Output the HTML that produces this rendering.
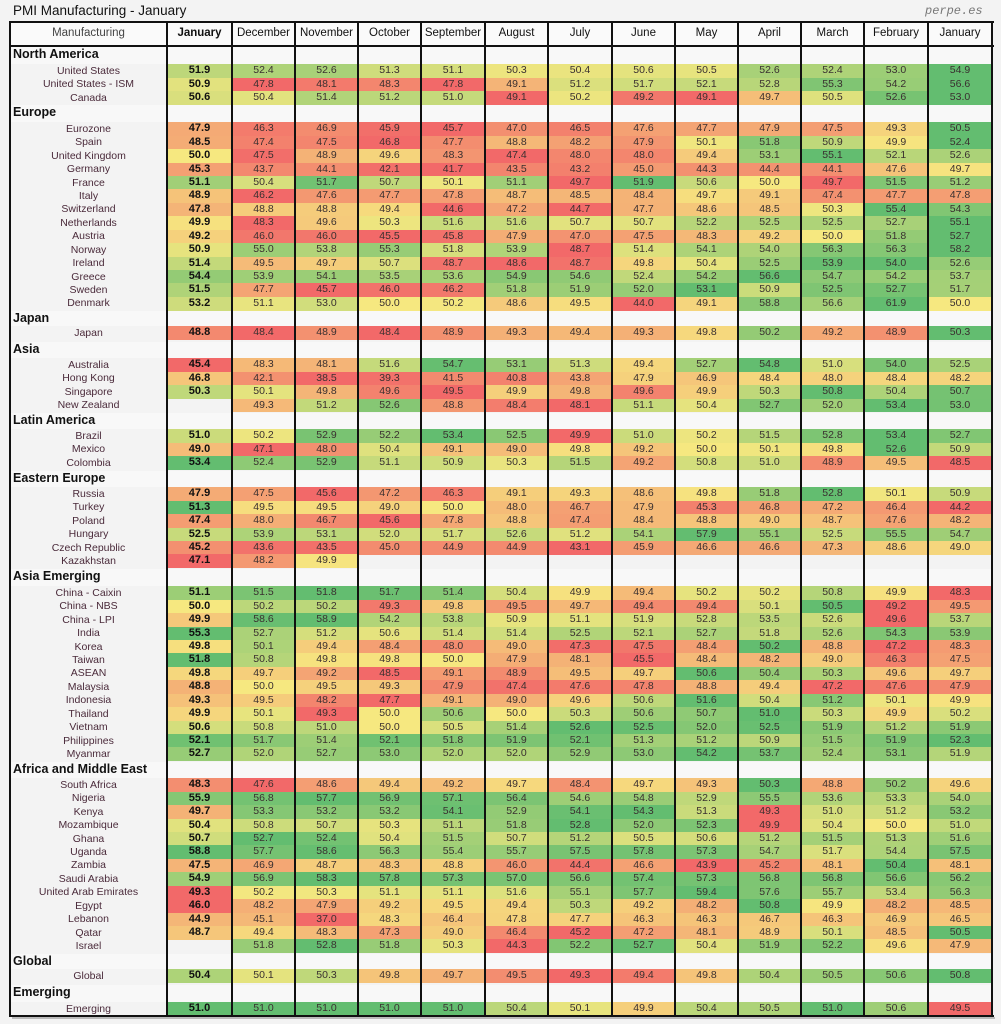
<!DOCTYPE html>
<html><head><meta charset="utf-8">
<style>
html,body{margin:0;padding:0;}
body{width:1001px;height:1024px;background:#f3f3f3;position:relative;overflow:hidden;font-family:"Liberation Sans",Arial,sans-serif;}
.t{position:absolute;white-space:nowrap;}
.c{position:absolute;text-align:center;font-size:10.5px;color:#3a3030;}
.vl{position:absolute;background:#111;width:2px;}
.hl{position:absolute;background:#111;height:2px;}
</style></head><body>
<div class="t" style="left:13px;top:3px;font-size:13.5px;color:#111;">PMI Manufacturing - January</div>
<div class="t" style="left:925px;top:4px;font-size:12px;color:#777;font-family:'Liberation Mono',monospace;font-style:italic;">perpe.es</div>
<div id="tb"></div>
<script>
const X=[10,167,232,295,358,421,485,548,612,675,738,801,864,928,992];
const heads=["Manufacturing","January","December","November","October","September","August","July","June","May","April","March","February","January"];
const groups=[
["North America",55,71,[
["United States","51.9 52.4 52.6 51.3 51.1 50.3 50.4 50.6 50.5 52.6 52.4 53.0 54.9"],
["United States - ISM","50.9 47.8 48.1 48.3 47.8 49.1 51.2 51.7 52.1 52.8 55.3 54.2 56.6"],
["Canada","50.6 50.4 51.4 51.2 51.0 49.1 50.2 49.2 49.1 49.7 50.5 52.6 53.0"]]],
["Europe",113,129,[
["Eurozone","47.9 46.3 46.9 45.9 45.7 47.0 46.5 47.6 47.7 47.9 47.5 49.3 50.5"],
["Spain","48.5 47.4 47.5 46.8 47.7 48.8 48.2 47.9 50.1 51.8 50.9 49.9 52.4"],
["United Kingdom","50.0 47.5 48.9 49.6 48.3 47.4 48.0 48.0 49.4 53.1 55.1 52.1 52.6"],
["Germany","45.3 43.7 44.1 42.1 41.7 43.5 43.2 45.0 44.3 44.4 44.1 47.6 49.7"],
["France","51.1 50.4 51.7 50.7 50.1 51.1 49.7 51.9 50.6 50.0 49.7 51.5 51.2"],
["Italy","48.9 46.2 47.6 47.7 47.8 48.7 48.5 48.4 49.7 49.1 47.4 47.7 47.8"],
["Switzerland","47.8 48.8 48.8 49.4 44.6 47.2 44.7 47.7 48.6 48.5 50.3 55.4 54.3"],
["Netherlands","49.9 48.3 49.6 50.3 51.6 51.6 50.7 50.7 52.2 52.5 52.5 52.7 55.1"],
["Austria","49.2 46.0 46.0 45.5 45.8 47.9 47.0 47.5 48.3 49.2 50.0 51.8 52.7"],
["Norway","50.9 55.0 53.8 55.3 51.8 53.9 48.7 51.4 54.1 54.0 56.3 56.3 58.2"],
["Ireland","51.4 49.5 49.7 50.7 48.7 48.6 48.7 49.8 50.4 52.5 53.9 54.0 52.6"],
["Greece","54.4 53.9 54.1 53.5 53.6 54.9 54.6 52.4 54.2 56.6 54.7 54.2 53.7"],
["Sweden","51.5 47.7 45.7 46.0 46.2 51.8 51.9 52.0 53.1 50.9 52.5 52.7 51.7"],
["Denmark","53.2 51.1 53.0 50.0 50.2 48.6 49.5 44.0 49.1 58.8 56.6 61.9 50.0"]]],
["Japan",319,333,[["Japan","48.8 48.4 48.9 48.4 48.9 49.3 49.4 49.3 49.8 50.2 49.2 48.9 50.3"]]],
["Asia",350,365,[
["Australia","45.4 48.3 48.1 51.6 54.7 53.1 51.3 49.4 52.7 54.8 51.0 54.0 52.5"],
["Hong Kong","46.8 42.1 38.5 39.3 41.5 40.8 43.8 47.9 46.9 48.4 48.0 48.4 48.2"],
["Singapore","50.3 50.1 49.8 49.6 49.5 49.9 49.8 49.6 49.9 50.3 50.8 50.4 50.7"],
["New Zealand","- 49.3 51.2 52.6 48.8 48.4 48.1 51.1 50.4 52.7 52.0 53.4 53.0"]]],
["Latin America",421,436,[
["Brazil","51.0 50.2 52.9 52.2 53.4 52.5 49.9 51.0 50.2 51.5 52.8 53.4 52.7"],
["Mexico","49.0 47.1 48.0 50.4 49.1 49.0 49.8 49.2 50.0 50.1 49.8 52.6 50.9"],
["Colombia","53.4 52.4 52.9 51.1 50.9 50.3 51.5 49.2 50.8 51.0 48.9 49.5 48.5"]]],
["Eastern Europe",479,494,[
["Russia","47.9 47.5 45.6 47.2 46.3 49.1 49.3 48.6 49.8 51.8 52.8 50.1 50.9"],
["Turkey","51.3 49.5 49.5 49.0 50.0 48.0 46.7 47.9 45.3 46.8 47.2 46.4 44.2"],
["Poland","47.4 48.0 46.7 45.6 47.8 48.8 47.4 48.4 48.8 49.0 48.7 47.6 48.2"],
["Hungary","52.5 53.9 53.1 52.0 51.7 52.6 51.2 54.1 57.9 55.1 52.5 55.5 54.7"],
["Czech Republic","45.2 43.6 43.5 45.0 44.9 44.9 43.1 45.9 46.6 46.6 47.3 48.6 49.0"],
["Kazakhstan","47.1 48.2 49.9 - - - - - - - - - -"]]],
["Asia Emerging",577,593,[
["China - Caixin","51.1 51.5 51.8 51.7 51.4 50.4 49.9 49.4 50.2 50.2 50.8 49.9 48.3"],
["China - NBS","50.0 50.2 50.2 49.3 49.8 49.5 49.7 49.4 49.4 50.1 50.5 49.2 49.5"],
["China - LPI","49.9 58.6 58.9 54.2 53.8 50.9 51.1 51.9 52.8 53.5 52.6 49.6 53.7"],
["India","55.3 52.7 51.2 50.6 51.4 51.4 52.5 52.1 52.7 51.8 52.6 54.3 53.9"],
["Korea","49.8 50.1 49.4 48.4 48.0 49.0 47.3 47.5 48.4 50.2 48.8 47.2 48.3"],
["Taiwan","51.8 50.8 49.8 49.8 50.0 47.9 48.1 45.5 48.4 48.2 49.0 46.3 47.5"],
["ASEAN","49.8 49.7 49.2 48.5 49.1 48.9 49.5 49.7 50.6 50.4 50.3 49.6 49.7"],
["Malaysia","48.8 50.0 49.5 49.3 47.9 47.4 47.6 47.8 48.8 49.4 47.2 47.6 47.9"],
["Indonesia","49.3 49.5 48.2 47.7 49.1 49.0 49.6 50.6 51.6 50.4 51.2 50.1 49.9"],
["Thailand","49.9 50.1 49.3 50.0 50.6 50.0 50.3 50.6 50.7 51.0 50.3 49.9 50.2"],
["Vietnam","50.6 50.8 51.0 50.0 50.5 51.4 52.6 52.5 52.0 52.5 51.9 51.2 51.9"],
["Philippines","52.1 51.7 51.4 52.1 51.8 51.9 52.1 51.3 51.2 50.9 51.5 51.9 52.3"],
["Myanmar","52.7 52.0 52.7 53.0 52.0 52.0 52.9 53.0 54.2 53.7 52.4 53.1 51.9"]]],
["Africa and Middle East",770,785,[
["South Africa","48.3 47.6 48.6 49.4 49.2 49.7 48.4 49.7 49.3 50.3 48.8 50.2 49.6"],
["Nigeria","55.9 56.8 57.7 56.9 57.1 56.4 54.6 54.8 52.9 55.5 53.6 53.3 54.0"],
["Kenya","49.7 53.3 53.2 53.2 54.1 52.9 54.1 54.3 51.3 49.3 51.0 51.2 53.2"],
["Mozambique","50.4 50.8 50.7 50.3 51.1 51.8 52.8 52.0 52.3 49.9 50.4 50.0 51.0"],
["Ghana","50.7 52.7 52.4 50.4 51.5 50.7 51.2 50.5 50.6 51.2 51.5 51.3 51.6"],
["Uganda","58.8 57.7 58.6 56.3 55.4 55.7 57.5 57.8 57.3 54.7 51.7 54.4 57.5"],
["Zambia","47.5 46.9 48.7 48.3 48.8 46.0 44.4 46.6 43.9 45.2 48.1 50.4 48.1"],
["Saudi Arabia","54.9 56.9 58.3 57.8 57.3 57.0 56.6 57.4 57.3 56.8 56.8 56.6 56.2"],
["United Arab Emirates","49.3 50.2 50.3 51.1 51.1 51.6 55.1 57.7 59.4 57.6 55.7 53.4 56.3"],
["Egypt","46.0 48.2 47.9 49.2 49.5 49.4 50.3 49.2 48.2 50.8 49.9 48.2 48.5"],
["Lebanon","44.9 45.1 37.0 48.3 46.4 47.8 47.7 46.3 46.3 46.7 46.3 46.9 46.5"],
["Qatar","48.7 49.4 48.3 47.3 49.0 46.4 45.2 47.2 48.1 48.9 50.1 48.5 50.5"],
["Israel","- 51.8 52.8 51.8 50.3 44.3 52.2 52.7 50.4 51.9 52.2 49.6 47.9"]]],
["Global",962,976,[["Global","50.4 50.1 50.3 49.8 49.7 49.5 49.3 49.4 49.8 50.4 50.5 50.6 50.8"]]],
["Emerging",993,1009,[["Emerging","51.0 51.0 51.0 51.0 51.0 50.4 50.1 49.9 50.4 50.5 51.0 50.6 49.5"]]]
];
const R=[242,105,105],Y=[246,232,128],G=[99,189,112];
function mix(a,b,t){return `rgb(${a.map((v,i)=>Math.round(v+(b[i]-v)*t)).join(',')})`;}
let h='';
h+=`<div style="position:absolute;left:10px;top:22px;width:982px;height:24px;background:#fafafa"></div>`;
for(let i=0;i<14;i++){
  const l=X[i],w=X[i+1]-X[i];
  h+=`<div class="t" style="left:${l}px;top:27px;width:${w}px;text-align:center;font-size:11.5px;color:${i==0?'#444':'#111'};${i==1?'font-weight:bold;':''}">${heads[i]}</div>`;
}
const RH=13.43;
for(const [gname,gc,fc,rows] of groups){
  const bt=gc-8, bh=(fc-RH/2)-bt;
  h+=`<div style="position:absolute;left:10px;top:${bt}px;width:982px;height:${bh}px;background:#f8f8f8"></div>`;
  h+=`<div class="t" style="left:13px;top:${gc-8}px;font-size:12.5px;font-weight:bold;color:#111">${gname}</div>`;
  rows.forEach((r,k)=>{
    const cy=fc+k*RH, top=cy-RH/2;
    const vals=r[1].split(' ').map(v=>v=='-'?null:parseFloat(v));
    const nums=vals.filter(v=>v!==null);
    const mn=Math.min(...nums),mx=Math.max(...nums);
    h+=`<div class="c" style="left:10px;top:${top+0.5}px;width:157px;height:${RH}px;line-height:${RH}px;color:#4a2a3a">${r[0]}</div>`;
    vals.forEach((v,j)=>{
      if(v===null)return;
      let col;
      if(v>=50){col=mx>50?mix(Y,G,(v-50)/(mx-50)):mix(Y,Y,0);}
      else{col=mn<50?mix(Y,R,(50-v)/(50-mn)):mix(Y,Y,0);}
      const l=X[j+1],w=X[j+2]-X[j+1];
      h+=`<div class="c" style="left:${l}px;top:${top}px;width:${w}px;height:${RH+0.4}px;line-height:${RH+0.5}px;background:${col};${j==0?'font-weight:bold;font-size:11px;color:#111;':''}">${v.toFixed(1)}</div>`;
    });
  });
}
X.forEach(x=>{h+=`<div class="vl" style="left:${x-1}px;top:22px;height:994px"></div>`;});
h+=`<div class="hl" style="left:9px;top:21px;width:985px"></div>`;
h+=`<div class="hl" style="left:9px;top:45px;width:985px"></div>`;
h+=`<div class="hl" style="left:9px;top:1015px;width:985px"></div>`;
h+=`<div style="position:absolute;left:12px;top:1017px;width:983px;height:2px;background:#bbb"></div>`;
document.getElementById('tb').innerHTML=h;
</script>
</body></html>
